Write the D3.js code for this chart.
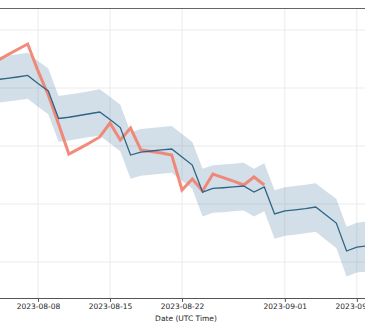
<!DOCTYPE html>
<html>
<head>
<meta charset="utf-8">
<script src="https://cdn.jsdelivr.net/npm/d3@7"></script>
<style>
html,body{margin:0;padding:0;background:#fff;}
svg{display:block;}
</style>
</head>
<body>
<svg id="chart" width="365" height="330"></svg>
<script>
// ---- data ----
const forecastDates = ["2023-08-04","2023-08-05","2023-08-06","2023-08-07","2023-08-08","2023-08-09","2023-08-10","2023-08-11","2023-08-12","2023-08-13","2023-08-14","2023-08-15","2023-08-16","2023-08-17","2023-08-18","2023-08-19","2023-08-20","2023-08-21","2023-08-22","2023-08-23","2023-08-24","2023-08-25","2023-08-26","2023-08-27","2023-08-28","2023-08-29","2023-08-30","2023-08-31","2023-09-01","2023-09-02","2023-09-03","2023-09-04","2023-09-05","2023-09-06","2023-09-07","2023-09-08","2023-09-09"];
const forecast = [1857.2,1858.3,1859.5,1860.8,1853.8,1847.4,1823.7,1824.8,1826.3,1827.8,1829.3,1822.8,1815.9,1792.2,1794.8,1795.7,1796.6,1797.4,1790.5,1783.6,1760.3,1763.4,1764.0,1764.7,1765.5,1760.3,1764.7,1741.4,1744.0,1745.0,1746.1,1747.4,1740.5,1733.6,1709.5,1712.9,1713.8];
const forecastUpper = [1876.7,1877.8,1879.0,1880.3,1873.3,1866.9,1843.2,1844.3,1845.8,1847.3,1849.0,1842.5,1835.6,1811.9,1814.6,1815.5,1816.4,1817.2,1810.3,1803.4,1780.3,1783.4,1784.0,1784.7,1785.5,1780.3,1785.2,1761.9,1764.5,1765.5,1766.6,1767.9,1761.0,1754.6,1730.5,1733.9,1734.8];
const forecastLower = [1837.2,1838.3,1839.5,1840.8,1833.8,1827.4,1803.7,1804.8,1806.3,1807.8,1808.8,1802.3,1795.4,1771.7,1774.3,1775.2,1776.1,1776.9,1770.0,1763.1,1739.3,1742.4,1743.0,1743.7,1744.5,1739.3,1743.7,1720.0,1722.6,1723.6,1724.7,1726.0,1719.0,1712.1,1687.5,1690.9,1691.8];
const actualDates = forecastDates.slice(0, 27);
const actual = [1873.3,1878.4,1883.2,1887.9,1864.7,1844.0,1819.0,1793.1,1797.8,1802.6,1807.8,1819.8,1805.2,1815.5,1796.6,1795.3,1794.0,1792.2,1762.1,1771.6,1761.2,1775.9,1772.8,1769.8,1766.4,1773.3,1766.4];
const xTickLabels = ["2023-08-08","2023-08-15","2023-08-22","2023-09-01","2023-09-08"];
const yGridValues = [1700,1750,1800,1850,1900];
const xLabel = "Date (UTC Time)";

// ---- layout ----
const svg = d3.select("#chart");
const plot = {left:-34, right:398, top:8, bottom:298};
const parse = d3.utcParse("%Y-%m-%d");

const x = d3.scaleUtc()
  .domain([parse("2023-08-01"), parse("2023-09-12")])
  .range([plot.left, plot.right]);
const y = d3.scaleLinear()
  .domain([1668.97, 1918.97])
  .range([plot.bottom, plot.top]);

const fc = forecastDates.map((d,i)=>({d:parse(d), v:forecast[i], lo:forecastLower[i], hi:forecastUpper[i]}));
const ac = actualDates.map((d,i)=>({d:parse(d), v:actual[i]}));

svg.append("defs").append("clipPath").attr("id","clip")
  .append("rect").attr("x",plot.left).attr("y",plot.top)
  .attr("width",plot.right-plot.left).attr("height",plot.bottom-plot.top);

// grid
const grid = svg.append("g");
grid.selectAll("line.h").data(yGridValues).enter().append("line")
  .attr("x1",plot.left).attr("x2",plot.right)
  .attr("y1",d=>y(d)).attr("y2",d=>y(d))
  .attr("stroke","#ebebeb").attr("stroke-width",1);
grid.selectAll("line.v").data(xTickLabels).enter().append("line")
  .attr("x1",d=>x(parse(d))).attr("x2",d=>x(parse(d)))
  .attr("y1",plot.top).attr("y2",plot.bottom)
  .attr("stroke","#ebebeb").attr("stroke-width",1);

const g = svg.append("g").attr("clip-path","url(#clip)");
g.append("path").datum(fc)
  .attr("d", d3.area().x(d=>x(d.d)).y0(d=>y(d.lo)).y1(d=>y(d.hi)))
  .attr("fill","#4f7fa3").attr("fill-opacity",0.25).attr("stroke","none");
g.append("path").datum(ac)
  .attr("d", d3.line().x(d=>x(d.d)).y(d=>y(d.v)))
  .attr("fill","none").attr("stroke","#f27e6d").attr("stroke-width",3)
  .attr("stroke-opacity",0.9).attr("stroke-linejoin","miter");
g.append("path").datum(fc)
  .attr("d", d3.line().x(d=>x(d.d)).y(d=>y(d.v)))
  .attr("fill","none").attr("stroke","#2e6485").attr("stroke-width",1.3);

// top spine
svg.append("line").attr("x1",plot.left).attr("x2",plot.right)
  .attr("y1",plot.top+0.5).attr("y2",plot.top+0.5)
  .attr("stroke","#666").attr("stroke-width",1);

// x axis
const xAxis = d3.axisBottom(x)
  .tickValues(xTickLabels.map(parse))
  .tickFormat(d3.utcFormat("%Y-%m-%d"))
  .tickSizeOuter(0).tickSizeInner(4).tickPadding(2);
const ax = svg.append("g").attr("transform",`translate(0,${plot.bottom})`).call(xAxis);
ax.select(".domain").attr("stroke","#555");
ax.selectAll(".tick line").attr("stroke","#555");
ax.selectAll("text").attr("font-family","DejaVu Sans").attr("font-size","7.5px").attr("fill","#262626");

svg.append("text").attr("x",186).attr("y",321)
  .attr("text-anchor","middle").attr("font-family","DejaVu Sans")
  .attr("font-size","7.5px").attr("fill","#262626").text(xLabel);
</script>
</body>
</html>
